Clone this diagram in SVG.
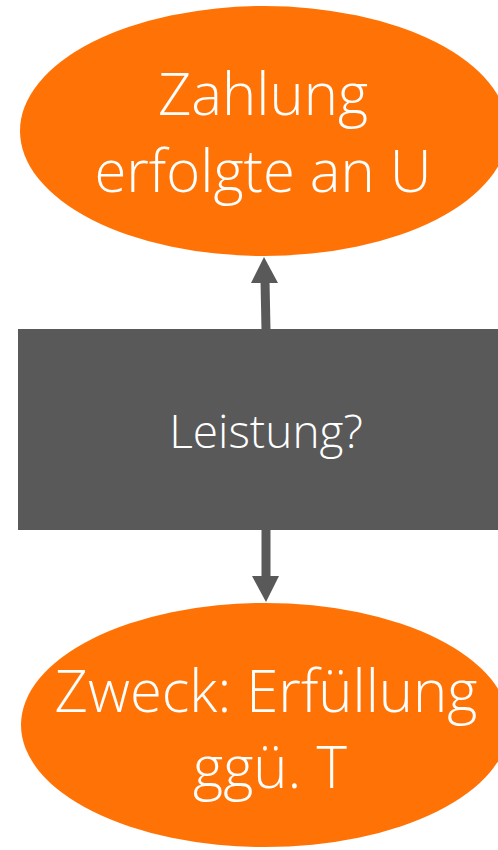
<svg xmlns="http://www.w3.org/2000/svg" width="498" height="850" viewBox="0 0 498 850">
<style>
.ell{fill:#FF7306}
.box{fill:#595959}
.t{font-family:"Open Sans","Liberation Sans",sans-serif;font-weight:300;fill:#fff;text-anchor:middle}
.big{font-size:58px}
.mid{font-size:46px}
.con{stroke:#595959;stroke-width:9;fill:none}
.head{fill:#595959}
</style>
<rect width="498" height="850" fill="#fff"/>
<g id="connectors">
<line class="con" x1="266" y1="330" x2="265" y2="280"/>
<polygon class="head" points="264,257 278,283 251,283"/>
<line class="con" x1="266" y1="529" x2="266" y2="578"/>
<polygon class="head" points="266,602 252,576 279,576"/>
</g>
<g id="node-top">
<ellipse class="ell" cx="264" cy="131" rx="244" ry="125"/>
<text class="t big" x="263" y="115">Zahlung</text>
<text class="t big" x="263" y="192">erfolgte an U</text>
</g>
<g id="node-mid">
<rect class="box" x="18" y="329" width="490" height="201"/>
<text class="t mid" x="266" y="448">Leistung?</text>
</g>
<g id="node-bottom">
<ellipse class="ell" cx="265" cy="725" rx="244" ry="122"/>
<text class="t big" x="266" y="712">Zweck: Erfüllung</text>
<text class="t big" x="270" y="788">ggü. T</text>
</g>
</svg>
